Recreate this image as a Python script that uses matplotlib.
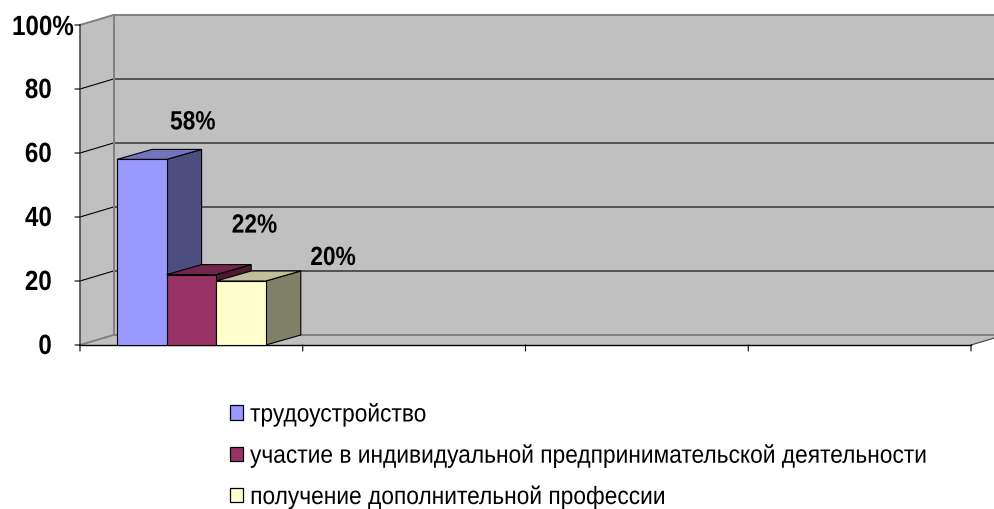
import matplotlib
matplotlib.use('Agg')
import matplotlib.pyplot as plt
import matplotlib.patheffects as pe
from matplotlib.patches import Polygon, Patch
from matplotlib.transforms import Affine2D

# Data
y_ticks = [0, 20, 40, 60, 80, 100]
y_tick_labels = ['0', '20', '40', '60', '80', '100%']
x_ticks = [0, 1, 2, 3, 4]
series_names = ['трудоустройство',
                'участие в индивидуальной предпринимательской деятельности',
                'получение дополнительной профессии']
values = [58, 22, 20]
value_labels = ['58%', '22%', '20%']

front_colors = ['#9999FF', '#993366', '#FFFFCC']
top_colors = ['#7373BF', '#73264D', '#BFBF99']
side_colors = ['#4D4D80', '#4D1A33', '#808066']

plt.rcParams['font.family'] = ['Liberation Sans', 'DejaVu Sans']


# The reference font is Arial squeezed sideways, so squeeze the drawn glyphs too
class Squeeze(pe.AbstractPathEffect):
    def __init__(self, sx, anchor):
        super().__init__()
        self.sx = sx
        self.anchor = anchor

    def draw_path(self, renderer, gc, tpath, affine, rgbFace=None):
        box = tpath.get_extents(affine)
        ox = box.x0 + self.anchor * box.width
        squeezed = affine + Affine2D().translate(-ox, 0).scale(self.sx, 1).translate(ox, 0)
        renderer.draw_path(gc, tpath, squeezed, rgbFace)


fig = plt.figure(figsize=(9.94, 5.10), dpi=100)
ax = fig.add_axes([80 / 994, 164 / 510, 891 / 994, 320 / 510])
ax.set_xlim(0, 4)
ax.set_ylim(0, 100)
ax.axis('off')

# 3D depth of the box, in data units (about 34px right, 10px up)
dx = 33.5 / 222.75
dy = 10 / 3.2
bar_dx = 35 / 222.75
bar_w = 49.6 / 222.75
bar_start = 37 / 222.75


def poly(pts, fc, ec='none', lw=0, z=1):
    ax.add_patch(Polygon(pts, closed=True, facecolor=fc, edgecolor=ec, linewidth=lw,
                         zorder=z, clip_on=False, joinstyle='miter'))


# walls and floor
poly([(0, 0), (4, 0), (4 + dx, dy), (dx, dy)], '#C0C0C0')
poly([(0, 0), (dx, dy), (dx, 100 + dy), (0, 100)], '#C0C0C0')
poly([(dx, dy), (4 + dx, dy), (4 + dx, 100 + dy), (dx, 100 + dy)], '#C0C0C0')

# gridlines run over the side wall and the back wall
for t in y_ticks[1:-1]:
    ax.plot([0, dx, 4 + dx], [t, t + dy, t + dy], color='black', lw=0.8, zorder=2, clip_on=False)

# wall edges
ax.plot([dx, dx], [dy, 100 + dy], color='#808080', lw=1.4, zorder=2, clip_on=False)
ax.plot([dx, 4 + dx], [100 + dy, 100 + dy], color='#808080', lw=1.4, zorder=2, clip_on=False)
ax.plot([dx, 4 + dx], [dy, dy], color='#808080', lw=1.4, zorder=2, clip_on=False)
ax.plot([0, dx], [100, 100 + dy], color='#808080', lw=1.4, zorder=2, clip_on=False)
ax.plot([0, dx], [0, dy], color='#808080', lw=1.4, zorder=2, clip_on=False)
ax.plot([4, 4 + dx], [0, dy], color='#404040', lw=0.8, zorder=2, clip_on=False)

# axis lines and ticks
ax.plot([0, 0], [0, 100], color='#404040', lw=1.1, zorder=3, clip_on=False)
ax.plot([0, 4], [0, 0], color='black', lw=1.0, zorder=3, clip_on=False)

for t, lab in zip(y_ticks, y_tick_labels):
    ax.annotate('', xy=(0, t), xytext=(-5, 0), textcoords='offset pixels',
                arrowprops=dict(arrowstyle='-', color='black', lw=0.8, shrinkA=0, shrinkB=0))
    txt = ax.annotate(lab, xy=(0, t), xytext=(-6, -3) if lab == '100%' else (-28, -2),
                      textcoords='offset pixels', ha='right', va='center', fontsize=20,
                      fontweight='bold', annotation_clip=False)
    txt.set_path_effects([Squeeze(0.87, 1)])

for t in x_ticks:
    ax.annotate('', xy=(t, 0), xytext=(0, -6), textcoords='offset pixels',
                arrowprops=dict(arrowstyle='-', color='black', lw=0.8, shrinkA=0, shrinkB=0))

# bars
label_offsets = [(51, 37), (63, 49), (92, 23)]
for i, v in enumerate(values):
    x0 = bar_start + i * bar_w
    x1 = x0 + bar_w
    z = 4 + i
    poly([(x1, 0), (x1 + bar_dx, dy), (x1 + bar_dx, v + dy), (x1, v)], side_colors[i], 'black', 0.8, z)
    poly([(x0, v), (x1, v), (x1 + bar_dx, v + dy), (x0 + bar_dx, v + dy)], top_colors[i], 'black', 0.8, z)
    poly([(x0, 0), (x1, 0), (x1, v), (x0, v)], front_colors[i], 'black', 0.8, z)
    txt = ax.annotate(value_labels[i], xy=((x0 + x1) / 2, v), xytext=label_offsets[i],
                      textcoords='offset pixels', ha='center', va='center',
                      fontsize=19, fontweight='bold', zorder=10, annotation_clip=False)
    txt.set_path_effects([Squeeze(0.86, 0.5)])

handles = [Patch(facecolor=c, edgecolor='black', linewidth=0.9) for c in front_colors]
leg = fig.legend(handles, series_names, loc='upper left', bbox_to_anchor=(230 / 994, 1 - 403 / 510),
                 frameon=False, fontsize=18, handlelength=0.52, handleheight=0.52, handletextpad=0.28,
                 labelspacing=0.67, borderpad=0, borderaxespad=0)
for txt in leg.get_texts():
    txt.set_path_effects([Squeeze(0.91, 0)])

fig.savefig('out.png', dpi=100)
